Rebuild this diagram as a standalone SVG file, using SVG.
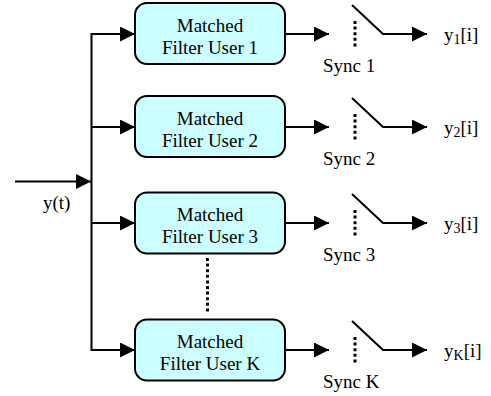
<svg xmlns="http://www.w3.org/2000/svg" width="491" height="396" viewBox="0 0 491 396" font-family="'Liberation Serif', 'DejaVu Serif', serif">
<style>
text{font-family:'Liberation Serif','DejaVu Serif',serif;font-size:19px;fill:#000}
.box{fill:#CCFFFF;stroke:#000;stroke-width:2}
.ln{fill:none;stroke:#000;stroke-width:2}
.dots{fill:none;stroke:#000;stroke-width:3;stroke-dasharray:3 2.6}
.ctr{text-anchor:middle}
.sub{font-size:14px}
</style>
<defs>
<marker id="ah" markerUnits="userSpaceOnUse" markerWidth="15" markerHeight="15" refX="15" refY="7.5" orient="auto">
<path d="M0,0 L15,7.5 L0,15 z" fill="#000"/>
</marker>
</defs>
<g id="connectors">
<line class="ln" x1="15" y1="181.5" x2="91" y2="181.5" marker-end="url(#ah)"/>
<line class="ln" x1="91.5" y1="33" x2="91.5" y2="351"/>
<line class="ln" x1="91.5" y1="34" x2="135" y2="34" marker-end="url(#ah)"/>
<line class="ln" x1="91.5" y1="127" x2="135" y2="127" marker-end="url(#ah)"/>
<line class="ln" x1="91.5" y1="223" x2="135" y2="223" marker-end="url(#ah)"/>
<line class="ln" x1="91.5" y1="350" x2="135" y2="350" marker-end="url(#ah)"/>
<line class="ln" x1="285" y1="34" x2="329" y2="34" marker-end="url(#ah)"/>
<line class="ln" x1="285" y1="127" x2="329" y2="127" marker-end="url(#ah)"/>
<line class="ln" x1="285" y1="223" x2="329" y2="223" marker-end="url(#ah)"/>
<line class="ln" x1="285" y1="350" x2="329" y2="350" marker-end="url(#ah)"/>
<line class="dots" x1="207.5" y1="258" x2="207.5" y2="312"/>
</g>
<g id="input-label"><text x="43" y="209">y(t)</text></g>
<g id="mf1">
<rect class="box" x="135" y="3" width="150" height="61" rx="12"/>
<text class="ctr" x="210" y="31.5">Matched</text>
<text class="ctr" x="210" y="53.5">Filter User 1</text>
</g>
<g id="mf2">
<rect class="box" x="135" y="96" width="150" height="61" rx="12"/>
<text class="ctr" x="210" y="124.5">Matched</text>
<text class="ctr" x="210" y="146.5">Filter User 2</text>
</g>
<g id="mf3">
<rect class="box" x="135" y="192.5" width="150" height="61" rx="12"/>
<text class="ctr" x="210" y="220.5">Matched</text>
<text class="ctr" x="210" y="242.5">Filter User 3</text>
</g>
<g id="mfK">
<rect class="box" x="135" y="319.5" width="150" height="61" rx="12"/>
<text class="ctr" x="210" y="347.5">Matched</text>
<text class="ctr" x="210" y="369.5">Filter User K</text>
</g>
<g id="sw1">
<line class="dots" x1="355" y1="21" x2="355" y2="49"/>
<polyline class="ln" points="352,5 383,34 427,34" marker-end="url(#ah)"/>
<text x="323" y="72">Sync 1</text>
<text x="444" y="41">y<tspan class="sub" dy="3">1</tspan><tspan dy="-3">[i]</tspan></text>
</g>
<g id="sw2">
<line class="dots" x1="355" y1="114" x2="355" y2="142"/>
<polyline class="ln" points="352,98 383,127 427,127" marker-end="url(#ah)"/>
<text x="323" y="165">Sync 2</text>
<text x="444" y="134">y<tspan class="sub" dy="3">2</tspan><tspan dy="-3">[i]</tspan></text>
</g>
<g id="sw3">
<line class="dots" x1="355" y1="210" x2="355" y2="238"/>
<polyline class="ln" points="352,194 383,223 427,223" marker-end="url(#ah)"/>
<text x="323" y="261">Sync 3</text>
<text x="444" y="230">y<tspan class="sub" dy="3">3</tspan><tspan dy="-3">[i]</tspan></text>
</g>
<g id="swK">
<line class="dots" x1="355" y1="337" x2="355" y2="365"/>
<polyline class="ln" points="352,321 383,350 427,350" marker-end="url(#ah)"/>
<text x="323" y="388">Sync K</text>
<text x="444" y="357">y<tspan class="sub" dy="3">K</tspan><tspan dy="-3">[i]</tspan></text>
</g>
</svg>
